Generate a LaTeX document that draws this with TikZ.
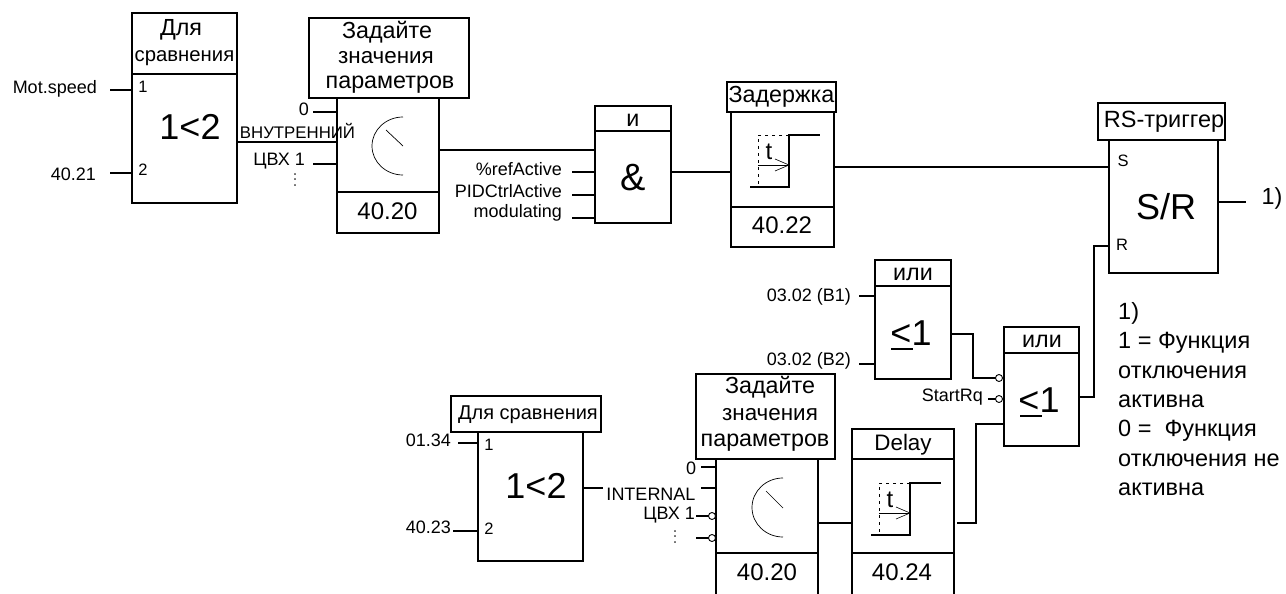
\documentclass[tikz,border=0pt]{standalone}
\usepackage{fontspec}
\setmainfont{Liberation Sans}
\tikzset{
  x=1pt,y=-1pt,
  wire/.style={line width=1.3pt,line cap=butt,line join=miter},
  blockbox/.style={draw,line width=1.3pt},
  lbl/.style={inner sep=0pt,font=\fontsize{18}{20}\selectfont},
  small/.style={inner sep=0pt,font=\fontsize{16.5}{18}\selectfont},
  ttl/.style={inner sep=0pt,align=center,font=\fontsize{23.3}{28}\selectfont},
  ttlb/.style={inner sep=0pt,align=center,font=\fontsize{22.4}{28}\selectfont},
  ttlc/.style={inner sep=0pt,align=center,font=\fontsize{20.3}{28}\selectfont},
  val/.style={inner sep=0pt,font=\fontsize{24}{26}\selectfont},
  big/.style={inner sep=0pt,font=\fontsize{36}{40}\selectfont},
  inv/.style={circle,draw,line width=0.9pt,fill=white,minimum size=7pt,inner sep=0pt},
  dial/.style={line width=0.7pt},
}
\newcommand{\rectnode}[5]{%
  \path (#2,#3) coordinate (#1-nw) (#4,#5) coordinate (#1-se);
  \draw[blockbox] (#2,#3) rectangle (#4,#5);}
\newcommand{\stepsym}[3]{%
  \draw[line width=1pt,dash pattern=on 3pt off 4pt] (#1+31,#2) -- (#1,#2) -- (#1,#2+52);
  \draw[wire] (#1-8,#2+52) -- (#1+31,#2+52) -- (#1+31,#2) -- (#1+62,#2);
  \draw[line width=1pt] (#1,#2+30) -- (#1+31,#2+30);
  \draw[line width=0.6pt] (#1+17,#2+24) -- (#1+31,#2+30) -- (#1+17,#2+36);
  \node[inner sep=0pt,font=\fontsize{24}{26}\selectfont] (#3) at (#1+11,#2+17) {t};}
\newcommand{\vdotsrot}{\rotatebox{90}{.\kern2pt.\kern2pt.}}
\begin{document}
\begin{tikzpicture}
\useasboundingbox (0,0) rectangle (1286,594);
% block 1
\rectnode{a}{132}{13}{237}{203}
\draw[blockbox] (132,74) -- (237,74);
\node[ttl] (at1) at (181,30) {Для};
\node[ttlc] (at2) at (184.5,58) {сравнения};
\node[big] (a1) at (190,127) {1<2};
\node[small] (an1) at (143,87) {1};
\node[small] (an2) at (143,170) {2};
\node[lbl,anchor=east] (mot) at (97,89) {Mot.speed};
\node[lbl,anchor=east] (i4021) at (96,174) {40.21};
\draw[wire] (110,90) -- (132,90);
\draw[wire] (110,173) -- (132,173);
% block 2
\rectnode{b}{337}{98}{439}{233}
\draw[blockbox] (337,192) -- (439,192);
\rectnode{bt}{309}{18}{469}{98}
\node[ttl] (bt1) at (387,32) {Задайте};
\node[ttlb] (bt2) at (386,58) {значения};
\node[ttl] (bt3) at (390,85) {параметров};
\node[val] (bv) at (387.5,211) {40.20};
\draw[dial] (403,117) arc[start angle=90,end angle=270,x radius=31,y radius=-29];
\draw[dial] (386,130) -- (403,146);
\node[lbl] (b0) at (304,109) {0};
\node[inner sep=0pt,font=\fontsize{16.8}{18}\selectfont] (bint) at (297.5,131) {ВНУТРЕННИЙ};
\node[lbl,anchor=east] (bd) at (305,161) {ЦВХ 1};
\node[inner sep=0pt,font=\fontsize{14}{16}\selectfont] (bdots) at (295,180) {\vdotsrot};
\draw[wire] (313,112) -- (337,112);
\draw[wire] (237,142) -- (337,142);
\draw[wire] (313,164) -- (337,164);
% AND
\rectnode{c}{595}{106}{671}{223}
\draw[blockbox] (595,131) -- (671,131);
\node[ttl] (ct) at (633,120) {и};
\node[inner sep=0pt,font=\fontsize{38}{42}\selectfont] (amp) at (633,178) {\&};
\node[lbl,anchor=east] (c1) at (562,169) {\%refActive};
\node[lbl,anchor=east] (c2) at (562,191) {PIDCtrlActive};
\node[lbl,anchor=east] (c3) at (562,213) {modulating};
\draw[wire] (572,172) -- (595,172);
\draw[wire] (572,195) -- (595,195);
\draw[wire] (572,218) -- (595,218);
\draw[wire] (439,150) -- (595,150);
% delay 1
\rectnode{d}{731}{112}{834}{247}
\draw[blockbox] (731,207) -- (834,207);
\rectnode{dt}{727}{82}{836}{112}
\node[ttl] (dtt) at (781.5,97) {Задержка};
\stepsym{758}{135}{dtx}
\node[val] (dv) at (782,225) {40.22};
\draw[wire] (671,172) -- (731,172);
% RS
\rectnode{e}{1109}{140}{1218}{273}
\rectnode{et}{1098}{103}{1225}{140}
\node[inner sep=0pt,font=\fontsize{23.5}{28}\selectfont] (ett) at (1164,122) {RS-триггер};
\node[small] (es) at (1123,161) {S};
\node[small] (er) at (1122,245) {R};
\node[big] (esr) at (1166,207) {S/R};
\node[ttl] (o1) at (1272,198) {1)};
\draw[wire] (834,167) -- (1109,167);
\draw[wire] (1218,202) -- (1246,202);
% OR 1
\rectnode{f}{875}{260}{951}{379}
\draw[blockbox] (875,286) -- (951,286);
\node[ttl] (ft) at (913,274) {или};
\node[big] (f1) at (911,333) {<1};
\draw[line width=1.5pt] (891,349) -- (913,349);
\node[lbl,anchor=east] (f3) at (851,297) {03.02 (B1)};
\node[lbl,anchor=east] (f4) at (851,361) {03.02 (B2)};
\draw[wire] (859,296) -- (875,296);
\draw[wire] (859,364) -- (875,364);
% OR 2
\rectnode{g}{1004}{327}{1079}{446}
\draw[blockbox] (1004,353) -- (1079,353);
\node[ttl] (gt) at (1042,341) {или};
\node[big] (g1) at (1039,400) {<1};
\draw[line width=1.5pt] (1020,416) -- (1042,416);
\node[lbl,anchor=east] (gs) at (983,397) {StartRq};
\draw[wire] (951,334) -- (973,334) -- (973,378) -- (997,378);
\node[inv] (inv1) at (999,378) {};
\draw[wire] (988,399) -- (996,399);
\node[inv] (inv2) at (999,399) {};
\draw[wire] (1079,397) -- (1094,397) -- (1094,246) -- (1109,246);
% note
\node[anchor=north west,inner sep=0pt,align=left,font=\fontsize{23.5}{29.4}\selectfont] (note) at (1118,302)
 {1)\\1 = Функция\\отключения\\активна\\0 =\ \ Функция\\отключения не\\активна};
% block 4
\rectnode{h}{478}{432}{583}{561}
\rectnode{ht}{451}{396}{601}{432}
\node[inner sep=0pt,font=\fontsize{20}{24}\selectfont] (htt) at (528,415) {Для сравнения};
\node[big] (h1) at (536,486) {1<2};
\node[small] (hn1) at (489,445) {1};
\node[small] (hn2) at (489,529) {2};
\node[lbl,anchor=east] (h01) at (451,440) {01.34};
\node[lbl,anchor=east] (h40) at (451,527) {40.23};
\draw[wire] (458,443) -- (478,443);
\draw[wire] (453,531) -- (478,531);
% block 5
\draw[blockbox] (716,459) -- (716,594) (818,459) -- (818,594);
\draw[blockbox] (716,553) -- (818,553);
\rectnode{jt}{696}{374}{835}{459}
\node[ttl] (jt1) at (770,387) {Задайте};
\node[ttlb] (jt2) at (770,415) {значения};
\node[ttl] (jt3) at (765,443) {параметров};
\node[val] (jv) at (767,572) {40.20};
\draw[dial] (783,478) arc[start angle=90,end angle=270,x radius=31,y radius=-29.5];
\draw[dial] (766,491) -- (783,508);
\node[lbl] (j0) at (691,468) {0};
\node[lbl] (jint) at (651,494) {INTERNAL};
\node[lbl,anchor=east] (jd) at (695,515) {ЦВХ 1};
\node[inner sep=0pt,font=\fontsize{14}{16}\selectfont] (jdots) at (675,537) {\vdotsrot};
\draw[wire] (701,467) -- (716,467);
\draw[wire] (701,488) -- (716,488);
\draw[wire] (696,516) -- (709,516);
\node[inv] (inv3) at (712,516) {};
\draw[wire] (696,538) -- (709,538);
\node[inv] (inv4) at (712,538) {};
\draw[wire] (583,488) -- (603,488);
% delay 2
\draw[blockbox] (852,459) -- (852,594) (954,459) -- (954,594);
\draw[blockbox] (852,553) -- (954,553);
\rectnode{kt}{852}{429}{954}{459}
\node[ttlb] (ktt) at (903,445) {Delay};
\stepsym{879}{483}{ktx}
\node[val] (kv) at (902,572) {40.24};
\draw[wire] (818,523) -- (852,523);
\draw[wire] (1004,424) -- (976,424) -- (976,523) -- (957,523);
\end{tikzpicture}
\end{document}
